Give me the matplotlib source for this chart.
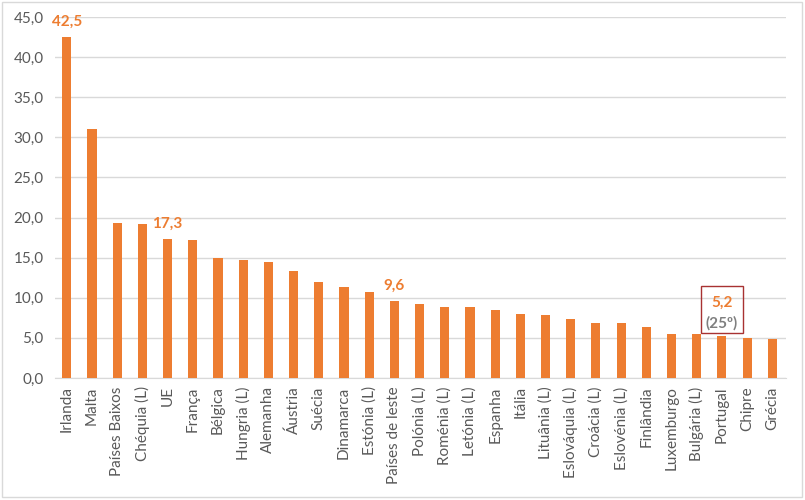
import matplotlib.pyplot as plt
from matplotlib.patches import Rectangle
from matplotlib.ticker import FuncFormatter

# dados
paises = ['Irlanda', 'Malta', 'Países Baixos', 'Chéquia (L)', 'UE', 'França', 'Bélgica',
          'Hungria (L)', 'Alemanha', 'Áustria', 'Suécia', 'Dinamarca', 'Estónia (L)',
          'Países de leste', 'Polónia (L)', 'Roménia (L)', 'Letónia (L)', 'Espanha',
          'Itália', 'Lituânia (L)', 'Eslováquia (L)', 'Croácia (L)', 'Eslovénia (L)',
          'Finlândia', 'Luxemburgo', 'Bulgária (L)', 'Portugal', 'Chipre', 'Grécia']
valores = [42.5, 31.1, 19.3, 19.2, 17.3, 17.2, 15.0, 14.7, 14.5, 13.3, 12.0, 11.4, 10.7,
           9.6, 9.2, 8.9, 8.8, 8.5, 8.0, 7.9, 7.4, 6.9, 6.8, 6.3, 5.5, 5.5, 5.2, 5.0, 4.9]
destaques = ['Irlanda', 'UE', 'Países de leste']
realce = 'Portugal'
realce_rank = '(25º)'

laranja = '#ED7D31'
cinza = '#595959'
plt.rcParams['font.family'] = ['Lato', 'DejaVu Sans']

fig = plt.figure(figsize=(8.05, 5), dpi=100)
ax = fig.add_axes([0.068, 0.244, 0.908, 0.722])

x = range(len(paises))
ax.bar(x, valores, width=0.36, color=laranja, zorder=3)

ax.set_xlim(-0.48, 28.53)
ax.set_ylim(0, 45)
ax.set_yticks([i * 5 for i in range(10)])
ax.yaxis.set_major_formatter(FuncFormatter(lambda v, p: f'{v:.1f}'.replace('.', ',')))
ax.grid(axis='y', color='#d9d9d9', linewidth=1, zorder=0)
ax.set_xticks(list(x))
ax.set_xticklabels(paises, rotation=90, fontsize=11, color=cinza)
ax.tick_params(axis='y', length=0, labelsize=11, labelcolor=cinza, pad=8)
ax.tick_params(axis='x', length=0, pad=6)
for s in ['top', 'right', 'left']:
    ax.spines[s].set_visible(False)
ax.spines['bottom'].set_color('#d9d9d9')

# rótulos
for nome in destaques:
    i = paises.index(nome)
    v = valores[i]
    ax.annotate(f'{v:.1f}'.replace('.', ','), (i, v), xytext=(0, 11), textcoords='offset points',
                ha='center', va='center', color=laranja, fontsize=11, fontweight='bold')

i = paises.index(realce)
v = valores[i]
ax.annotate(f'{v:.1f}'.replace('.', ','), (i, v), xytext=(0, 24), textcoords='offset points',
            ha='center', va='center', color=laranja, fontsize=11, fontweight='bold')
ax.annotate(realce_rank, (i, v), xytext=(0, 9.5), textcoords='offset points',
            ha='center', va='center', color='#7f7f7f', fontsize=11, fontweight='bold')
ax.add_patch(Rectangle((i - 0.82, v + 0.4), 1.66, 5.9, fill=False,
                       edgecolor='#a83232', linewidth=1, zorder=4, clip_on=False))

fig.add_artist(Rectangle((0.002, 0.006), 0.994, 0.99, transform=fig.transFigure,
                         fill=False, edgecolor='#d9d9d9', linewidth=1))

fig.savefig('out.png', dpi=100)
